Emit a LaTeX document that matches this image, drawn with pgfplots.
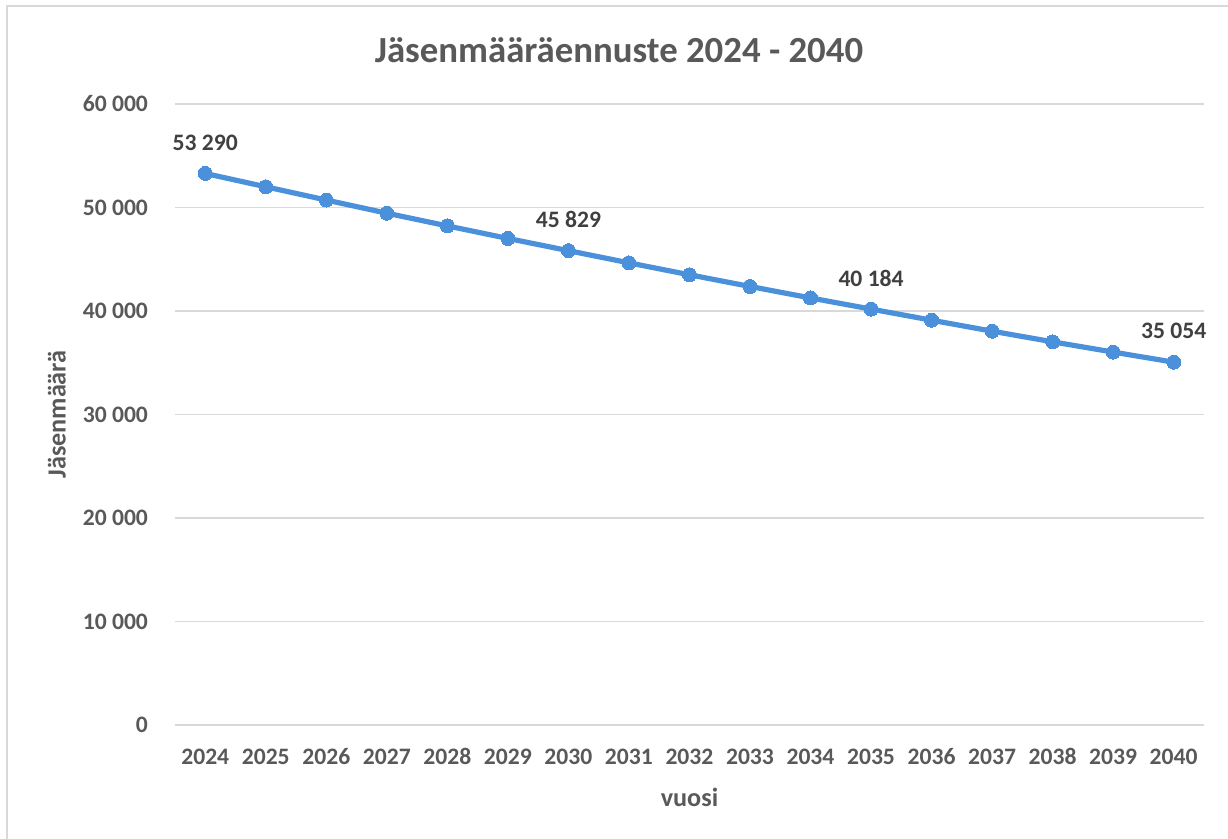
\documentclass[border=0pt]{standalone}
\usepackage{pgfplots}
\pgfplotsset{compat=1.18}
\usepackage{fontspec}
\setmainfont{Carlito}
\definecolor{txt}{HTML}{595959}
\definecolor{lbl}{HTML}{404040}
\definecolor{gridc}{HTML}{D9D9D9}
\definecolor{ser}{HTML}{4A90DB}
\begin{document}
\begin{tikzpicture}
\useasboundingbox (0,0) rectangle (614pt,419.5pt);
\draw[gridc, line width=0.6pt] (3.5pt,0) -- (3.5pt,416.5pt) -- (614pt,416.5pt);
\node[font=\fontsize{18.4}{22}\selectfont\bfseries, text=txt] at (309.5pt,394.5pt) {Jäsenmääräennuste 2024 - 2040};
\begin{axis}[
  at={(87.5pt,57pt)}, anchor=south west,
  scale only axis, width=514.5pt, height=310.5pt,
  xmin=2023.5, xmax=2040.5, ymin=0, ymax=60000,
  xtick={2024,...,2040}, ytick={0,10000,...,60000},
  scaled y ticks=false,
  axis line style={draw=none},
  tick style={draw=none},
  ymajorgrids=true, xmajorgrids=false,
  grid style={draw=gridc, line width=0.6pt},
  /pgf/number format/assume math mode=true,
  xticklabel style={font=\fontsize{11.8}{14}\selectfont\bfseries, text=txt, /pgf/number format/1000 sep={}, anchor=base, yshift=-19.75pt},
  yticklabel style={font=\fontsize{11.8}{14}\selectfont\bfseries, text=txt, /pgf/number format/1000 sep={\ }, xshift=-10pt},
  xlabel={vuosi}, ylabel={Jäsenmäärä},
  xlabel style={font=\fontsize{13.1}{16}\selectfont\bfseries, text=txt, at={(axis description cs:0.5,-0.116)}, anchor=center},
  ylabel style={font=\fontsize{13.1}{16}\selectfont\bfseries, text=txt, at={(axis description cs:-0.1147,0.5)}, anchor=center},
  clip=false,
]
\draw[gridc, line width=0.6pt] (axis cs:2023.5,0) -- (axis cs:2040.5,0);
\addplot[ser, line width=2.6pt, mark=*, mark size=3.5pt, mark options={fill=ser, draw=ser, line width=0pt}] coordinates {
(2024,53290) (2025,52000) (2026,50720) (2027,49450) (2028,48220) (2029,47010) (2030,45829)
(2031,44650) (2032,43500) (2033,42370) (2034,41260) (2035,40184)
(2036,39110) (2037,38050) (2038,37020) (2039,36030) (2040,35054)
};
\addplot[draw=none, mark=none, point meta=explicit symbolic,
  nodes near coords, nodes near coords style={anchor=center, yshift=15.5pt, font=\fontsize{11.8}{14}\selectfont\bfseries, text=lbl}]
coordinates {(2024,53290)[53\ 290] (2030,45829)[45\ 829] (2035,40184)[40\ 184] (2040,35054)[35\ 054]};
\end{axis}
\end{tikzpicture}
\end{document}
